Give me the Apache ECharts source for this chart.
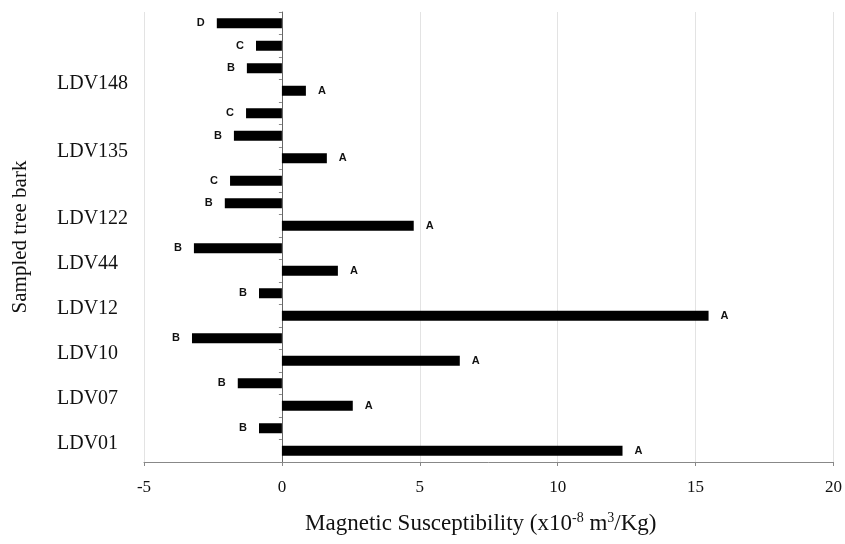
<!DOCTYPE html>
<html>
<head>
<meta charset="utf-8">
<script src="https://cdn.jsdelivr.net/npm/echarts@6/dist/echarts.min.js"></script>
<style>
  html, body { margin: 0; padding: 0; background: #fff; }
  #chart { width: 845px; height: 544px; }
</style>
</head>
<body>
<div id="chart"></div>
<script>
// bars from bottom to top
var samples = ['LDV01', 'LDV01', 'LDV07', 'LDV07', 'LDV10', 'LDV10', 'LDV12', 'LDV12',
  'LDV44', 'LDV44', 'LDV122', 'LDV122', 'LDV122', 'LDV135', 'LDV135', 'LDV135',
  'LDV148', 'LDV148', 'LDV148', 'LDV148'];
var letters = ['A', 'B', 'A', 'B', 'A', 'B', 'A', 'B', 'A', 'B', 'A', 'B', 'C', 'A', 'B', 'C', 'A', 'B', 'C', 'D'];
var values = [12.35, -0.83, 2.57, -1.6, 6.45, -3.26, 15.47, -0.83, 2.03, -3.19,
  4.78, -2.07, -1.88, 1.63, -1.74, -1.30, 0.87, -1.27, -0.94, -2.36];
var xTicks = [-5, 0, 5, 10, 15, 20];

var categories = samples.map(function (s, i) { return s + ' ' + letters[i]; });

var chart = echarts.init(document.getElementById('chart'));
var serif = 'Liberation Serif';

chart.setOption({
  animation: false,
  grid: { left: 144, right: 11, top: 12, bottom: 82 },
  xAxis: {
    type: 'value',
    min: xTicks[0],
    max: xTicks[xTicks.length - 1],
    interval: 5,
    axisLine: { show: true, onZero: false, lineStyle: { color: '#888' } },
    axisTick: { show: true, length: 4, lineStyle: { color: '#888' } },
    splitLine: { show: true, lineStyle: { color: '#e3e3e3' } },
    axisLabel: { margin: 17, color: '#111', fontFamily: serif, fontSize: 17 },
    name: '{t|Magnetic Susceptibility (x10}{s|-8}{t| m}{s|3}{t|/Kg)}',
    nameLocation: 'middle',
    nameGap: 49,
    nameTextStyle: {
      padding: [0, 16, 0, 0],
      rich: {
        t: { fontFamily: serif, fontSize: 23, color: '#111' },
        s: { fontFamily: serif, fontSize: 14, color: '#111', verticalAlign: 'top', padding: [0, 0, 11, 0] }
      }
    }
  },
  yAxis: [
    {
      type: 'category',
      data: categories,
      axisLine: { show: true, onZero: true, lineStyle: { color: '#666' } },
      axisTick: { show: true, length: 3, lineStyle: { color: '#888' } },
      axisLabel: { show: false },
      splitLine: { show: false }
    },
    {
      type: 'category',
      position: 'left',
      data: categories,
      axisLine: { show: false },
      axisTick: { show: false },
      splitLine: { show: false },
      axisLabel: {
        align: 'left',
        verticalAlign: 'bottom',
        lineHeight: 14,
        margin: 87,
        fontFamily: serif,
        fontSize: 20,
        color: '#111',
        interval: 0,
        formatter: function (v, i) { return letters[i] === 'A' ? samples[i] : ''; }
      },
      name: 'Sampled tree bark',
      nameLocation: 'middle',
      nameRotate: 90,
      nameGap: 113,
      nameTextStyle: { fontFamily: serif, fontSize: 21, color: '#111' }
    }
  ],
  series: [{
    type: 'bar',
    yAxisIndex: 0,
    barWidth: 10,
    itemStyle: { color: '#000' },
    data: values.map(function (v, i) {
      return {
        value: v,
        label: {
          show: true,
          position: v >= 0 ? 'right' : 'left',
          distance: 12,
          formatter: letters[i],
          fontFamily: 'Liberation Sans',
          fontWeight: 'bold',
          fontSize: 11,
          color: '#111'
        }
      };
    })
  }]
});
</script>
</body>
</html>
